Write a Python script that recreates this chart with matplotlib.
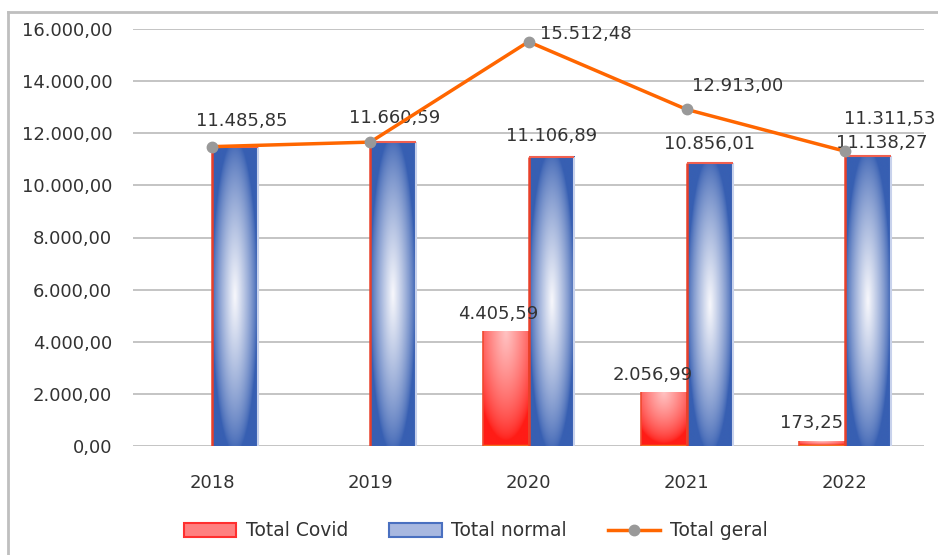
import numpy as np
import matplotlib
matplotlib.use("Agg")
import matplotlib.pyplot as plt
from matplotlib.patches import Patch
from matplotlib.lines import Line2D

years = ["2018", "2019", "2020", "2021", "2022"]
total_covid = [0, 0, 4405.59, 2056.99, 173.25]
total_normal = [11485.85, 11660.59, 11106.89, 10856.01, 11138.27]
total_geral = [11485.85, 11660.59, 15512.48, 12913.00, 11311.53]


def br(v):
    s = f"{v:,.2f}"
    return s.replace(",", "X").replace(".", ",").replace("X", ".")


def gradient(kind, n=120, m=60):
    yy, xx = np.mgrid[0:1:n * 1j, 0:1:m * 1j]  # yy: 0 bottom -> 1 top
    u = np.abs(xx - 0.5) * 2
    if kind == "blue":
        v = np.abs(yy - 0.5) * 2
        t = np.clip(1 - np.sqrt(u ** 2 + (v * 0.95) ** 2), 0, 1) ** 0.75
        base = np.array([55, 95, 178]) / 255
        light = np.array([248, 248, 252]) / 255
    else:
        v = 1 - yy
        t = np.clip(1 - np.sqrt((u * 0.7) ** 2 + (v * 1.05) ** 2), 0, 1) ** 0.7
        base = np.array([255, 28, 22]) / 255
        light = np.array([255, 195, 195]) / 255
    img = base[None, None, :] * (1 - t[..., None]) + light[None, None, :] * t[..., None]
    return img


TXT = "#333333"
plt.rcParams["font.family"] = ["DejaVu Sans"]

fig = plt.figure(figsize=(9.38, 5.55), dpi=100)
ax = fig.add_axes([133 / 938, 1 - 446 / 555, 791 / 938, 417 / 555])

x = np.arange(len(years))
w = 0.29
bars_c = ax.bar(x - w / 2, total_covid, width=w, color="none", zorder=2)
bars_n = ax.bar(x + w / 2, total_normal, width=w, color="none", zorder=2)

img_red = gradient("red")
img_blue = gradient("blue")
for b in bars_c:
    h = b.get_height()
    if h <= 0:
        continue
    x0, x1 = b.get_x(), b.get_x() + b.get_width()
    ax.imshow(img_red, extent=(x0, x1, 0, h), origin="lower", aspect="auto",
              interpolation="bilinear", zorder=2)
    ax.vlines([x0, x1], 0, h, color="#f04a30", lw=1.2, zorder=3)
    ax.hlines(0, x0, x1, color="#f07020", lw=2.5, zorder=3)
for b in bars_n:
    h = b.get_height()
    x0, x1 = b.get_x(), b.get_x() + b.get_width()
    ax.imshow(img_blue, extent=(x0, x1, 0, h), origin="lower", aspect="auto",
              interpolation="bilinear", zorder=2)
    ax.vlines(x0, 0, h, color="#e8402a", lw=1.8, zorder=3)
    ax.vlines(x1, 0, h, color="#c8d2ec", lw=1.5, zorder=3)
    ax.hlines(h, x0, x1, color="#f06050", lw=1.5, zorder=3)

ax.plot(x, total_geral, color="#ff6600", lw=2.5, marker="o", markersize=7.5,
        markerfacecolor="#999999", markeredgecolor="#999999", zorder=5)

# data labels (offsets in pixels)
red_off = [None, None, (-7, 17), (-11, 17), (-10, 18)]
blue_off = [None, None, (0, 21), (0, 19), (14, 13)]
line_off = [(30, 26), (24, 24), (57, 8), (51, 23), (45, 32)]
for i in range(len(years)):
    if red_off[i] is not None:
        ax.annotate(br(total_covid[i]), (x[i] - w / 2, total_covid[i]),
                    xytext=red_off[i], textcoords="offset pixels",
                    ha="center", va="center", fontsize=13, color=TXT, zorder=4)
    if blue_off[i] is not None:
        ax.annotate(br(total_normal[i]), (x[i] + w / 2, total_normal[i]),
                    xytext=blue_off[i], textcoords="offset pixels",
                    ha="center", va="center", fontsize=13, color=TXT, zorder=4)
    ax.annotate(br(total_geral[i]), (x[i], total_geral[i]),
                xytext=line_off[i], textcoords="offset pixels",
                ha="center", va="center", fontsize=13, color=TXT, zorder=4,
                annotation_clip=False)

ax.set_xlim(-0.5, len(years) - 0.5)
ax.set_ylim(0, 16000)
ax.set_yticks(np.arange(0, 16001, 2000))
ax.set_yticklabels([br(v) for v in np.arange(0, 16001, 2000)])
ax.set_xticks(x)
ax.set_xticklabels(years)
ax.tick_params(axis="y", length=0, pad=15, labelsize=13, labelcolor=TXT)
ax.tick_params(axis="x", length=0, pad=20, labelsize=13, labelcolor=TXT)
ax.grid(True, axis="y", color="#bfbfbf", lw=1.3, zorder=0)
ax.set_axisbelow(True)
for s in ax.spines.values():
    s.set_visible(False)

# outer chart border (left and top)
fig.add_artist(Line2D([8 / 938, 8 / 938], [0, 1 - 12 / 555], color="#bfbfbf",
                      lw=2, transform=fig.transFigure))
fig.add_artist(Line2D([8 / 938, 1], [1 - 12 / 555, 1 - 12 / 555], color="#bfbfbf",
                      lw=2, transform=fig.transFigure))

handles = [
    Patch(facecolor="#ff8080", edgecolor="#ff3030", lw=1.5),
    Patch(facecolor="#a8b8e0", edgecolor="#4a70c0", lw=1.5),
    Line2D([], [], color="#ff6600", lw=2.5, marker="o", markersize=7.5,
           markerfacecolor="#999999", markeredgecolor="#999999"),
]
fig.legend(handles, ["Total Covid", "Total normal", "Total geral"],
           loc="center", bbox_to_anchor=(0.507, 1 - 531 / 555), ncol=3,
           frameon=False, fontsize=13.5, labelcolor=TXT, columnspacing=2.2,
           handlelength=2.8, handleheight=0.8, handletextpad=0.5)

fig.savefig("out.png", dpi=100)
